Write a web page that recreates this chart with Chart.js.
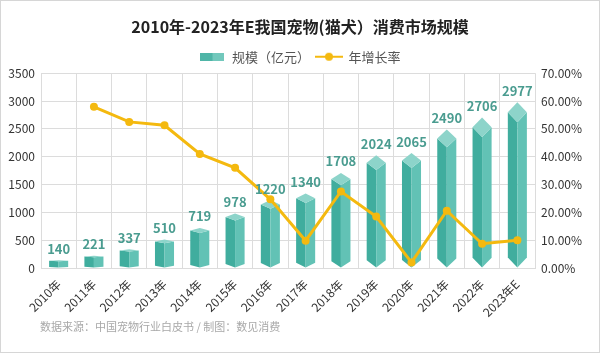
<!DOCTYPE html>
<html>
<head>
<meta charset="utf-8">
<script src="https://cdn.jsdelivr.net/npm/chart.js@4.4.1/dist/chart.umd.min.js"></script>
<style>
  html, body { margin: 0; padding: 0; background: #fff; }
  #wrap { position: relative; width: 600px; height: 353px; box-sizing: border-box; border: 1px solid #d6d6d6; }
  #note { position: absolute; left: 39px; top: 317px; font: 11px "Noto Sans CJK SC", sans-serif; color: #a8a8a8; }
</style>
</head>
<body>
<div id="wrap">
  <canvas id="marketChart" width="598" height="351"></canvas>
  <div id="note">数据来源：中国宠物行业白皮书 / 制图：数见消费</div>
</div>
<script>
const years = ['2010年', '2011年', '2012年', '2013年', '2014年', '2015年', '2016年',
  '2017年', '2018年', '2019年', '2020年', '2021年', '2022年', '2023年E'];
const marketSize = [140, 221, 337, 510, 719, 978, 1220, 1340, 1708, 2024, 2065, 2490, 2706, 2977];
const growthRate = [null, 57.9, 52.5, 51.3, 41.0, 36.0, 24.7, 9.8, 27.5, 18.5, 2.0, 20.6, 8.7, 10.0];
const leftTicks = [0, 500, 1000, 1500, 2000, 2500, 3000, 3500];
const rightTicks = [0, 10, 20, 30, 40, 50, 60, 70];

const FONT = '"Noto Sans CJK SC", "Noto Sans", sans-serif';

// little pictures for the legend
function legendBar() {
  const c = document.createElement('canvas');
  c.width = 24; c.height = 8;
  const g = c.getContext('2d');
  g.fillStyle = '#4fb5a7';
  g.fillRect(0, 0, 12, 8);
  g.fillStyle = '#72c8bc';
  g.fillRect(12, 0, 12, 8);
  return c;
}
function legendLine() {
  const c = document.createElement('canvas');
  c.width = 28; c.height = 10;
  const g = c.getContext('2d');
  g.strokeStyle = '#f4b90f';
  g.lineWidth = 2;
  g.beginPath(); g.moveTo(0, 5); g.lineTo(28, 5); g.stroke();
  g.fillStyle = '#f4b90f';
  g.beginPath(); g.arc(14, 5, 4, 0, Math.PI * 2); g.fill();
  return c;
}
const barIcon = legendBar();
const lineIcon = legendLine();

// draws the bars as small prisms with a diamond top
const prismBars = {
  id: 'prismBars',
  beforeDatasetDraw(chart, args) {
    if (args.meta.type !== 'bar') return;
    const ctx = chart.ctx;
    ctx.save();
    args.meta.data.forEach(bar => {
      const p = bar.getProps(['x', 'y', 'base', 'width'], true);
      const h = p.base - p.y;
      const d = Math.min(10, h * 0.065);
      const l = p.x - p.width / 2, r = p.x + p.width / 2;
      // left face
      ctx.fillStyle = '#40ad9e';
      ctx.beginPath();
      ctx.moveTo(l, p.y + d); ctx.lineTo(p.x, p.y + 2 * d);
      ctx.lineTo(p.x, p.base); ctx.lineTo(l, p.base - d);
      ctx.closePath(); ctx.fill();
      // right face
      ctx.fillStyle = '#62c2b5';
      ctx.beginPath();
      ctx.moveTo(p.x, p.y + 2 * d); ctx.lineTo(r, p.y + d);
      ctx.lineTo(r, p.base - d); ctx.lineTo(p.x, p.base);
      ctx.closePath(); ctx.fill();
      // top
      ctx.fillStyle = '#8dd4ca';
      ctx.beginPath();
      ctx.moveTo(p.x, p.y); ctx.lineTo(r, p.y + d);
      ctx.lineTo(p.x, p.y + 2 * d); ctx.lineTo(l, p.y + d);
      ctx.closePath(); ctx.fill();
    });
    ctx.restore();
    return false;
  },
  afterDatasetsDraw(chart) {
    const meta = chart.getDatasetMeta(0);
    const ctx = chart.ctx;
    ctx.save();
    ctx.font = 'bold 13px ' + FONT;
    ctx.fillStyle = '#4a9c90';
    ctx.textAlign = 'center';
    ctx.textBaseline = 'bottom';
    meta.data.forEach((bar, i) => {
      ctx.fillText(String(marketSize[i]), bar.x, bar.y - 5);
    });
    ctx.restore();
  }
};

new Chart(document.getElementById('marketChart').getContext('2d'), {
  type: 'bar',
  data: {
    labels: years,
    datasets: [{
      type: 'bar',
      label: '规模（亿元）',
      data: marketSize,
      yAxisID: 'y',
      backgroundColor: '#55b8aa',
      categoryPercentage: 1,
      barPercentage: 0.54,
      order: 1
    }, {
      type: 'line',
      label: '年增长率',
      data: growthRate,
      yAxisID: 'y1',
      borderColor: '#f4b90f',
      backgroundColor: '#f4b90f',
      borderWidth: 3,
      pointRadius: 4,
      pointBackgroundColor: '#f4b90f',
      pointBorderWidth: 0,
      tension: 0,
      order: 0
    }]
  },
  options: {
    responsive: false,
    animation: false,
    layout: { padding: { top: 16, bottom: 34, left: 0, right: 0 } },
    plugins: {
      title: {
        display: true,
        text: '2010年-2023年E我国宠物(猫犬）消费市场规模',
        color: '#222',
        font: { family: FONT, size: 16, weight: 'bold' },
        padding: { top: 0, bottom: 8 }
      },
      legend: {
        display: true,
        labels: {
          usePointStyle: true,
          pointStyleWidth: 26,
          color: '#555',
          font: { family: FONT, size: 13 },
          padding: 6,
          generateLabels: () => [
            { text: '规模（亿元）', pointStyle: barIcon, fillStyle: '#55b8aa', strokeStyle: '#55b8aa', lineWidth: 0, datasetIndex: 0, fontColor: '#555' },
            { text: '年增长率', pointStyle: lineIcon, fillStyle: '#f4b90f', strokeStyle: '#f4b90f', lineWidth: 0, datasetIndex: 1, fontColor: '#555' }
          ]
        }
      },
      tooltip: { enabled: false }
    },
    scales: {
      x: {
        grid: { color: '#dcdcdc', offset: true, drawTicks: false },
        border: { color: '#dcdcdc' },
        ticks: {
          color: '#333',
          font: { family: FONT, size: 12 },
          maxRotation: 45,
          minRotation: 45,
          padding: 9
        },
        afterFit: s => { s.height = 50; }
      },
      y: {
        position: 'left',
        min: 0,
        max: 3500,
        afterBuildTicks: s => { s.ticks = leftTicks.map(v => ({ value: v })); },
        grid: { color: '#dcdcdc', drawTicks: false },
        border: { display: false },
        ticks: {
          color: '#333',
          font: { family: FONT, size: 12 },
          padding: 6,
          callback: v => String(v)
        },
        afterFit: s => { s.width = 40; }
      },
      y1: {
        position: 'right',
        min: 0,
        max: 70,
        afterBuildTicks: s => { s.ticks = rightTicks.map(v => ({ value: v })); },
        grid: { display: false, drawTicks: false },
        border: { display: false },
        ticks: {
          color: '#333',
          font: { family: FONT, size: 12 },
          padding: 6,
          callback: v => v.toFixed(2) + '%'
        },
        afterFit: s => { s.width = 64; }
      }
    }
  },
  plugins: [prismBars]
});
</script>
</body>
</html>
